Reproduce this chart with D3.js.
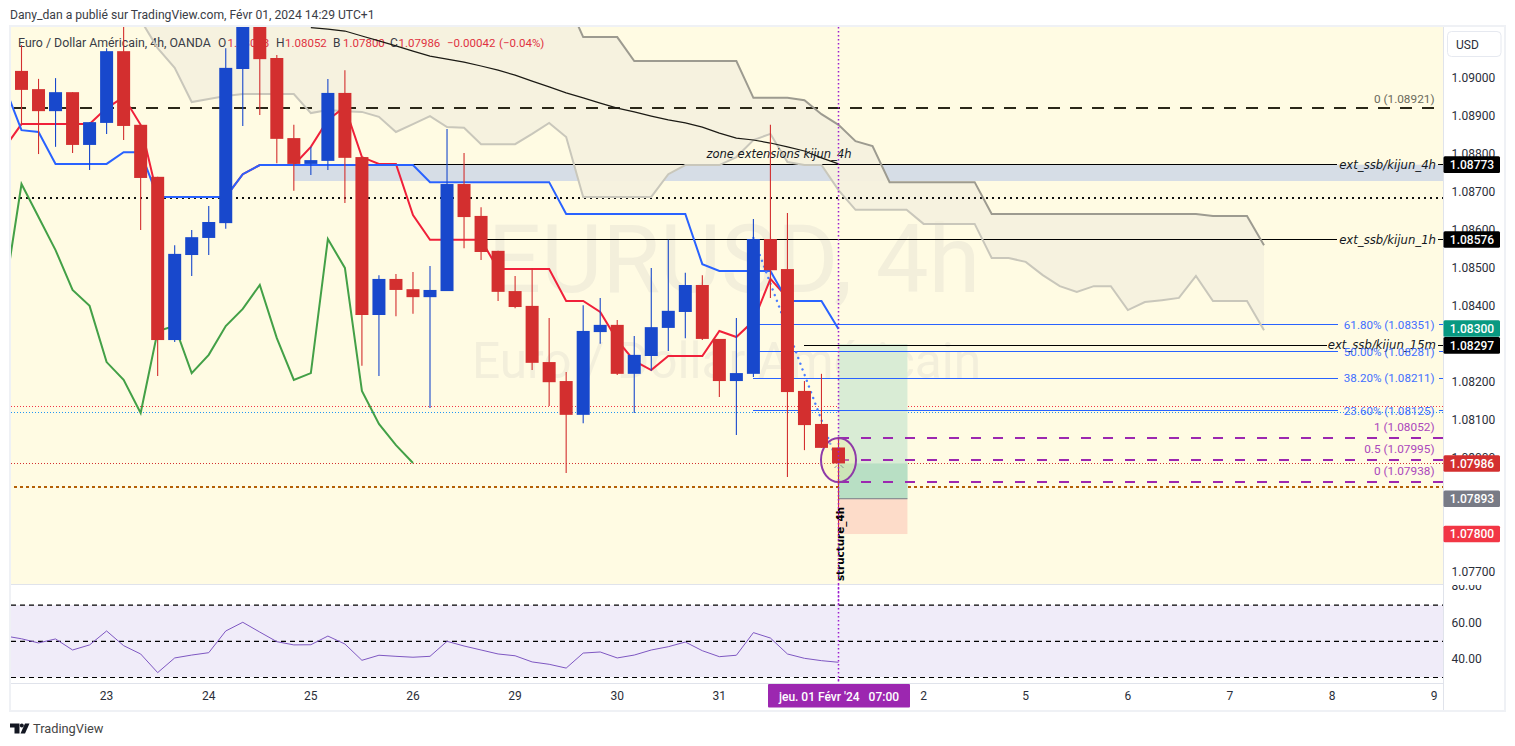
<!DOCTYPE html>
<html>
<head>
<meta charset="utf-8">
<script src="https://cdn.jsdelivr.net/npm/d3@7"></script>
<style>
html,body{margin:0;padding:0;background:#fff;overflow:hidden}
svg{display:block}
text{font-family:Roboto,sans-serif}
</style>
</head>
<body>
<svg id="c" width="1515" height="746"></svg>
<script>
// ---- Data ----
const candleOpen = [1.09020,1.08972,1.08914,1.08964,1.08825,1.08883,1.09072,1.08878,1.08741,1.08311,1.08535,1.08580,1.08619,1.09025,1.09200,1.09054,1.08843,1.08775,1.08783,1.08962,1.08793,1.08377,1.08472,1.08445,1.08424,1.08440,1.08722,1.08638,1.08546,1.08440,1.08401,1.08253,1.08203,1.08114,1.08332,1.08351,1.08222,1.08269,1.08343,1.08385,1.08456,1.08314,1.08203,1.08222,1.08577,1.08498,1.08177,1.08090,1.08028];
const candleHigh = [1.09088,1.08999,1.09001,1.08964,1.08885,1.09080,1.09136,1.08878,1.08741,1.08561,1.08601,1.08664,1.09080,1.09200,1.09200,1.09062,1.08878,1.08820,1.08999,1.09022,1.08793,1.08482,1.08485,1.08490,1.08506,1.08867,1.08804,1.08661,1.08546,1.08480,1.08501,1.08369,1.08227,1.08403,1.08422,1.08364,1.08322,1.08501,1.08575,1.08488,1.08482,1.08314,1.08369,1.08630,1.08878,1.08646,1.08203,1.08222,1.08052];
const candleLow = [1.08880,1.08801,1.08820,1.08804,1.08759,1.08854,1.08838,1.08601,1.08216,1.08306,1.08480,1.08535,1.08604,1.08875,1.08904,1.08777,1.08704,1.08746,1.08759,1.08672,1.08243,1.08216,1.08374,1.08380,1.08132,1.08440,1.08553,1.08522,1.08414,1.08395,1.08232,1.08137,1.07961,1.08092,1.08301,1.08219,1.08119,1.08230,1.08282,1.08316,1.08311,1.08161,1.08061,1.08214,1.08422,1.07950,1.08021,1.08027,1.07800];
const candleClose = [1.08970,1.08914,1.08964,1.08825,1.08885,1.09072,1.08875,1.08738,1.08311,1.08538,1.08582,1.08622,1.09028,1.09200,1.09051,1.08841,1.08775,1.08785,1.08962,1.08791,1.08377,1.08472,1.08443,1.08424,1.08443,1.08722,1.08635,1.08543,1.08438,1.08398,1.08251,1.08200,1.08114,1.08335,1.08351,1.08222,1.08272,1.08345,1.08388,1.08456,1.08314,1.08203,1.08224,1.08577,1.08495,1.08174,1.08087,1.08027,1.07986];

// Lines start at bar index -1 (one bar left of the visible area)
const tenkan = [1.08817,1.08880,1.08880,1.08880,1.08880,1.08880,1.08922,1.08951,1.08878,1.08688,1.08688,1.08688,1.08688,1.08688,1.08748,1.08772,1.08772,1.08772,1.08820,1.08891,1.08925,1.08793,1.08775,1.08775,1.08640,1.08575,1.08575,1.08575,1.08575,1.08498,1.08498,1.08498,1.08498,1.08414,1.08414,1.08385,1.08311,1.08256,1.08232,1.08269,1.08269,1.08269,1.08335,1.08319,1.08361,1.08472,1.08422];
const kijun = [1.08980,1.08864,1.08859,1.08775,1.08775,1.08775,1.08775,1.08806,1.08806,1.08688,1.08688,1.08688,1.08688,1.08688,1.08748,1.08772,1.08772,1.08772,1.08772,1.08772,1.08772,1.08772,1.08772,1.08772,1.08772,1.08727,1.08727,1.08727,1.08727,1.08727,1.08727,1.08727,1.08727,1.08643,1.08643,1.08643,1.08643,1.08643,1.08643,1.08643,1.08643,1.08511,1.08493,1.08493,1.08493,1.08493,1.08414,1.08414,1.08414,1.08340];
const chikou = [1.08430,1.08722,1.08635,1.08548,1.08443,1.08401,1.08253,1.08206,1.08119,1.08335,1.08348,1.08224,1.08272,1.08348,1.08393,1.08456,1.08316,1.08206,1.08224,1.08577,1.08501,1.08177,1.08090,1.08034,1.07987];

// Cloud lines start at bar index 7
const senkouA = [1.09154,1.09080,1.09028,1.08938,1.08946,1.08954,1.08959,1.08959,1.08959,1.08959,1.08909,1.08917,1.08914,1.08912,1.08899,1.08859,1.08880,1.08901,1.08872,1.08870,1.08827,1.08827,1.08827,1.08854,1.08883,1.08846,1.08688,1.08688,1.08688,1.08688,1.08688,1.08748,1.08772,1.08772,1.08772,1.08793,1.08838,1.08854,1.08780,1.08772,1.08772,1.08706,1.08654,1.08654,1.08654,1.08654,1.08617,1.08617,1.08617,1.08617,1.08527,1.08527,1.08517,1.08482,1.08453,1.08438,1.08453,1.08453,1.08390,1.08411,1.08416,1.08422,1.08480,1.08414,1.08414,1.08414,1.08337];
const senkouB = [1.09210,1.09210,1.09210,1.09210,1.09210,1.09210,1.09210,1.09210,1.09210,1.09210,1.09210,1.09210,1.09210,1.09210,1.09210,1.09210,1.09210,1.09210,1.09210,1.09210,1.09210,1.09210,1.09210,1.09210,1.09210,1.09210,1.09109,1.09109,1.09109,1.09046,1.09046,1.09046,1.09046,1.09046,1.09046,1.09046,1.08949,1.08949,1.08949,1.08943,1.08906,1.08878,1.08835,1.08822,1.08727,1.08727,1.08727,1.08727,1.08727,1.08727,1.08643,1.08643,1.08643,1.08643,1.08643,1.08643,1.08643,1.08643,1.08643,1.08643,1.08643,1.08643,1.08643,1.08638,1.08638,1.08638,1.08561];

// Black moving line starts at bar index 17
const longMa = [1.09134,1.09130,1.09125,1.09112,1.09099,1.09086,1.09072,1.09059,1.09051,1.09043,1.09033,1.09022,1.09009,1.08993,1.08978,1.08962,1.08949,1.08935,1.08922,1.08912,1.08901,1.08891,1.08883,1.08872,1.08856,1.08843,1.08838,1.08830,1.08820,1.08809,1.08791,1.08775];

// RSI starts at bar index -1
const rsi = [53,51.4,49.1,51.3,45.2,48,55.7,47.6,43,32.7,40.8,42.4,43.7,55.7,60.5,55.1,49.8,48,48.1,52.9,48.5,39.5,42.3,41.7,41.2,41.7,50,47.4,45.2,43,42,38.6,37.3,35.2,43.5,44.1,40.8,42.4,45.2,47,49.6,44.8,41.5,42.3,54.8,51.8,43,40.6,39.3,38.4];

const priceTicks = [1.09,1.089,1.088,1.087,1.086,1.085,1.084,1.083,1.082,1.081,1.08,1.079,1.077];
const rsiTicks = [80,60,40];
const dateLabels = ["23","24","25","26","29","30","31","2","5","6","7","8","9"];
const dateBars = [5,11,17,23,29,35,41,53,59,65,71,77,83];

const tagValues = [1.08773,1.08576,1.08300,1.08297,1.07986,1.07893,1.07800];
const tagColors = ["#000000","#000000","#089981","#000000","#d32f2f","#787b86","#f23645"];

const fibLabels = ["61.80% (1.08351)","50.00% (1.08281)","38.20% (1.08211)","23.60% (1.08125)"];
const fibValues = [1.08351,1.08281,1.08211,1.08125];
const extLabels = ["ext_ssb/kijun_4h","ext_ssb/kijun_1h","ext_ssb/kijun_15m"];
const extValues = [1.08773,1.08576,1.08297];
const extStartBars = [16,27,46];
const rangeLabels = ["1 (1.08052)","0.5 (1.07995)","0 (1.07938)"];
const rangeValues = [1.08052,1.07995,1.07938];
const zoneTop = 1.08773, zoneBottom = 1.0873;
const topDashed = 1.08921, midDotted = 1.08684, lowDotted = 1.07925;
const thinRed = 1.08137, thinBlue = 1.0812, lastPrice = 1.07986;
const posTarget = 1.083, posEntry = 1.07893, posStop = 1.078;
const trendFrom = [43,1.0858], trendTo = [47.7,1.08016];

// ---- Layout ----
const L=11,R=1443,T=27,B=584,RT=585,RB=683;
const svg=d3.select("#c");
const x=d3.scaleLinear().domain([0,48]).range([21.5,838.5]);
const y=d3.scaleLinear().domain([1.09,1.077]).range([78.5,572]);
const yr=d3.scaleLinear().domain([50,70]).range([641.3,605.1]);

const defs=svg.append("defs");
defs.append("clipPath").attr("id","cp").append("rect").attr("x",L).attr("y",T).attr("width",R-L).attr("height",B-T);
defs.append("clipPath").attr("id","cr").append("rect").attr("x",L).attr("y",RT).attr("width",R-L).attr("height",RB-RT);
defs.append("clipPath").attr("id","ca").append("rect").attr("x",R).attr("y",RT).attr("width",60).attr("height",RB-RT);

// frame
svg.append("rect").attr("x",10).attr("y",26).attr("width",1495).attr("height",685).attr("fill","#fff").attr("stroke","#eff1f5").attr("stroke-width",2);
svg.append("rect").attr("x",L).attr("y",T).attr("width",R-L).attr("height",B-T).attr("fill","#fffbe3");

const g=svg.append("g").attr("clip-path","url(#cp)");

// grey-blue zone
g.append("rect").attr("x",x(16)).attr("y",y(zoneTop)).attr("width",R-x(16)).attr("height",y(zoneBottom)-y(zoneTop)).attr("fill","#d6dde6");

// cloud
const cloudArea=d3.area().x((d,i)=>x(i+7)).y0((d,i)=>y(senkouA[i])).y1((d,i)=>y(senkouB[i]));
g.append("path").attr("d",cloudArea(senkouA)).attr("fill","#f5f1de").attr("fill-opacity",0.94);

// watermark
g.append("text").attr("x",734).attr("y",292).attr("text-anchor","middle").attr("font-size",94).attr("fill","#f3efdb").text("EURUSD, 4h");
g.append("text").attr("x",726.5).attr("y",378).attr("text-anchor","middle").attr("font-size",49.6).attr("fill","#f3efdb").text("Euro / Dollar Américain");

// legend (below the candles)
const legend=[["Euro / Dollar Américain, 4h, OANDA",18,"#3a3d46",12.35],["O",218,"#3a3d46",12],["1.08028",227.5,"#e0323f",11.5],["H",276,"#3a3d46",12],["1.08052",285,"#e0323f",11.5],["B",333,"#3a3d46",12],["1.07800",343,"#e0323f",11.5],["C",390,"#3a3d46",12],["1.07986",398.5,"#e0323f",11.5],["−0.00042",447,"#e0323f",11.5],["(−0.04%)",499,"#e0323f",11.5]];
g.selectAll(".lg").data(legend).join("text").attr("x",d=>d[1]).attr("y",46.5).attr("font-size",d=>d[3]).attr("fill",d=>d[2]).text(d=>d[0]);

const line=(arr,start)=>d3.line().x((d,i)=>x(i+start)).y(d=>y(d))(arr);
const hline=(p,x0,x1,col,w,dash)=>g.append("line").attr("x1",x0).attr("x2",x1).attr("y1",y(p)).attr("y2",y(p)).attr("stroke",col).attr("stroke-width",w).attr("stroke-dasharray",dash||null).attr("shape-rendering","crispEdges");

// horizontals
hline(topDashed,14,R,"#2a2718",2,"11.5 10.5");
hline(midDotted,14,R,"#111",2,"2 4");
hline(thinRed,L,R,"#f23645",1,"1.2 1.8");
hline(thinBlue,L,R,"#2196f3",1,"1.2 1.8");
hline(lastPrice,L,R,"#d32f2f",1,"1.2 1.8");
hline(lowDotted,14,R,"#b45f06",2,"3 3");

// position tool
g.append("rect").attr("x",x(48)).attr("y",y(posTarget)).attr("width",x(52.05)-x(48)).attr("height",y(posEntry)-y(posTarget)).attr("fill","#d9ecd5");
g.append("rect").attr("x",x(48)).attr("y",y(lastPrice)).attr("width",x(52.05)-x(48)).attr("height",y(posEntry)-y(lastPrice)).attr("fill","#b8dfc4");
g.append("rect").attr("x",x(48)).attr("y",y(posEntry)).attr("width",x(52.05)-x(48)).attr("height",y(posStop)-y(posEntry)).attr("fill","#fddcc9");
g.append("line").attr("x1",x(48)).attr("x2",x(52.05)).attr("y1",y(posEntry)).attr("y2",y(posEntry)).attr("stroke","#787b86").attr("stroke-width",1);

// fib + ext lines and labels
fibValues.forEach((v,i)=>{
  hline(v,x(43),1338,"#2962ff",1);
  hline(v,1439,R,"#2962ff",1);
});
extValues.forEach((v,i)=>{
  hline(v,x(extStartBars[i]),i==2?1327:1337,"#000",1);
  hline(v,1438,R,"#000",1);
});
// cloud outlines
g.append("path").attr("d",line(senkouA,7)).attr("fill","none").attr("stroke","#c9c7bb").attr("stroke-width",2);
g.append("path").attr("d",line(senkouB,7)).attr("fill","none").attr("stroke","#9d9b90").attr("stroke-width",2);
g.append("path").attr("d",line(longMa,17)).attr("fill","none").attr("stroke","#1b1a14").attr("stroke-width",1.2);

// indicators
g.append("path").attr("d",line(chikou,-1)).attr("fill","none").attr("stroke","#43a047").attr("stroke-width",2);
g.append("path").attr("d",line(tenkan,-1)).attr("fill","none").attr("stroke","#f0203a").attr("stroke-width",2);
g.append("path").attr("d",line(kijun,-1)).attr("fill","none").attr("stroke","#2962ff").attr("stroke-width",2);

// dotted fib trend
g.append("line").attr("x1",x(trendFrom[0])).attr("y1",y(trendFrom[1])).attr("x2",x(trendTo[0])).attr("y2",y(trendTo[1])).attr("stroke","#4a7dff").attr("stroke-width",2.4).attr("stroke-linecap","round").attr("stroke-dasharray","0.1 6");

// purple range
rangeValues.forEach(v=>hline(v,x(48),R,"#9c27b0",2,"10.5 11.5"));

// ellipse
g.append("ellipse").attr("cx",x(48)).attr("cy",y(1.07995)).attr("rx",17.5).attr("ry",22).attr("fill","#fff59d").attr("fill-opacity",0.3).attr("stroke","#8e3aa8").attr("stroke-width",2);
g.append("path").attr("d",`M${x(48)-4} 468l2.5 -2.5M${x(48)+2} 465l3 3`).attr("stroke","#8a8d94").attr("stroke-width",1).attr("fill","none");

// vertical cursor
svg.append("line").attr("x1",x(48)).attr("x2",x(48)).attr("y1",T).attr("y2",RB).attr("stroke","#9c1fd0").attr("stroke-width",1.5).attr("stroke-dasharray","1.5 2.5");

// candles
const idx=d3.range(candleOpen.length);
const col=i=>candleClose[i]>=candleOpen[i]?"#1848cc":"#d32f2f";
g.selectAll(".wick").data(idx).join("line").attr("x1",x).attr("x2",x).attr("y1",i=>y(candleHigh[i])).attr("y2",i=>y(candleLow[i])).attr("stroke",col).attr("stroke-width",1.1);
g.selectAll(".body").data(idx).join("rect").attr("x",i=>x(i)-6.5).attr("width",13).attr("y",i=>y(Math.max(candleOpen[i],candleClose[i]))).attr("height",i=>Math.max(1,Math.abs(y(candleOpen[i])-y(candleClose[i])))).attr("fill",col);

// text labels on chart
const ital='"DejaVu Sans",sans-serif';
extValues.forEach((v,i)=>{
  g.append("text").attr("x",1436).attr("y",y(v)).attr("dy","0.35em").attr("text-anchor","end").attr("font-size",11.7).attr("font-style","italic").attr("fill","#131722").style("font-family",ital).text(extLabels[i]);
});
fibValues.forEach((v,i)=>{
  g.append("text").attr("x",1434.5).attr("y",y(v)).attr("dy","0.35em").attr("text-anchor","end").attr("font-size",11.6).attr("fill","#3f6fff").text(fibLabels[i]);
});
rangeValues.forEach((v,i)=>{
  g.append("text").attr("x",1434.5).attr("y",y(v)-7).attr("text-anchor","end").attr("font-size",11.8).attr("fill","#ab47bc").text(rangeLabels[i]);
});
g.append("text").attr("x",1434.5).attr("y",y(topDashed)-5).attr("text-anchor","end").attr("font-size",11.8).attr("fill","#6b6a5c").text("0 (1.08921)");
g.append("text").attr("x",779).attr("y",y(1.08773)-7).attr("text-anchor","middle").attr("font-size",11.5).attr("font-style","italic").attr("fill","#131722").style("font-family",ital).text("zone extensions kijun_4h");
g.append("text").attr("transform",`translate(${x(48)+5.5},544) rotate(-90)`).attr("text-anchor","middle").attr("font-size",10.4).attr("font-weight","bold").attr("fill","#000").style("font-family",ital).text("structure_4h");

// panes
svg.append("line").attr("x1",L).attr("x2",R).attr("y1",B+0.5).attr("y2",B+0.5).attr("stroke","#e0e3eb");
const gr=svg.append("g").attr("clip-path","url(#cr)");
gr.append("rect").attr("x",L).attr("width",R-L).attr("y",yr(70)).attr("height",yr(30)-yr(70)).attr("fill","#f0ecf9");
[70,50,30].forEach(v=>gr.append("line").attr("x1",L).attr("x2",R).attr("y1",yr(v)).attr("y2",yr(v)).attr("stroke","#000").attr("stroke-width",1.2).attr("stroke-dasharray","5 4"));
gr.append("path").attr("d",d3.line().x((d,i)=>x(i-1)).y(d=>yr(d))(rsi)).attr("fill","none").attr("stroke","#7e57c2").attr("stroke-width",1);

// re-draw cursor over rsi band
svg.append("line").attr("x1",x(48)).attr("x2",x(48)).attr("y1",B).attr("y2",RB).attr("stroke","#9c1fd0").attr("stroke-width",1.5).attr("stroke-dasharray","1.5 2.5");
svg.append("line").attr("x1",L).attr("x2",R).attr("y1",RB+0.5).attr("y2",RB+0.5).attr("stroke","#e0e3eb");
svg.append("line").attr("x1",R+0.5).attr("x2",R+0.5).attr("y1",T).attr("y2",710).attr("stroke","#e0e3eb");

// axes
const pa=d3.axisRight(y).tickValues(priceTicks).tickFormat(d3.format(".5f")).tickSize(0).tickPadding(0);
const pg=svg.append("g").attr("transform","translate(1451.5,-0.5)").call(pa);
pg.select(".domain").remove();
pg.selectAll("text").attr("font-size",12).attr("fill","#2a2e39").style("font-family","Roboto,sans-serif");
const ra=d3.axisRight(yr).tickValues(rsiTicks).tickFormat(d3.format(".2f")).tickSize(0).tickPadding(0);
const rc=svg.append("g").attr("clip-path","url(#ca)");
const rg=rc.append("g").attr("transform","translate(1451.5,-1)").call(ra);
rg.select(".domain").remove();
rg.selectAll("text").attr("font-size",12).attr("fill","#2a2e39").style("font-family","Roboto,sans-serif");
const da=d3.axisBottom(x).tickValues(dateBars).tickFormat((d,i)=>dateLabels[i]).tickSize(0).tickPadding(0);
const dg=svg.append("g").attr("transform","translate(-0.5,691)").call(da);
dg.select(".domain").remove();
dg.selectAll("text").attr("font-size",12).attr("fill","#2a2e39").style("font-family","Roboto,sans-serif");

// time tag
svg.append("rect").attr("x",768).attr("y",684).attr("width",142).attr("height",23.5).attr("rx",1).attr("fill","#9c27b0");
svg.append("text").attr("x",839).attr("y",700.5).attr("text-anchor","middle").attr("font-size",12).attr("font-weight","500").attr("fill","#fff").attr("xml:space","preserve").style("white-space","pre").text("jeu. 01 Févr '24   07:00");

// price tags (the 1.08300 tag is pushed up by the chart so that it does not hide 1.08297)
tagValues.forEach((v,i)=>{
  const cy=y(v)+(i===2?-15.7:0);
  svg.append("rect").attr("x",1443.5).attr("y",cy-8.3).attr("width",56.5).attr("height",16.6).attr("rx",1.5).attr("fill",tagColors[i]);
  svg.append("text").attr("x",1472).attr("y",cy).attr("dy","0.35em").attr("text-anchor","middle").attr("font-size",12).attr("font-weight","500").attr("fill","#fff").text(d3.format(".5f")(v));
});

// USD
svg.append("rect").attr("x",1447.5).attr("y",31.5).attr("width",53.5).attr("height",25).attr("rx",4).attr("fill","#fff").attr("stroke","#e6e9f0").attr("stroke-width",1);
svg.append("text").attr("x",1456).attr("y",48.5).attr("font-size",12).attr("fill","#2a2e39").text("USD");

// header
svg.append("text").attr("x",10).attr("y",19).attr("font-size",12.15).attr("fill","#3a3d46").text("Dany_dan a publié sur TradingView.com, Févr 01, 2024 14:29 UTC+1");

// footer
const lg=svg.append("g").attr("fill","#131722");
lg.append("path").attr("d","M10 723.5H19.5V733.5H14.5V727.5H10Z");
lg.append("circle").attr("cx",21.8).attr("cy",725.5).attr("r",2);
lg.append("path").attr("d","M25 723.5H29.5L25 733.5H20.5Z");
svg.append("text").attr("x",33).attr("y",733).attr("font-size",12.8).attr("fill","#444").text("TradingView");
</script>
</body>
</html>
